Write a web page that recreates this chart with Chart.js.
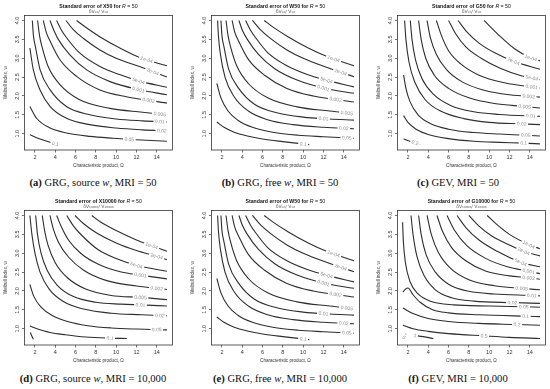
<!DOCTYPE html>
<html>
<head>
<meta charset="utf-8">
<script src="https://cdn.jsdelivr.net/npm/chart.js@4/dist/chart.umd.min.js"></script>
<style>
  body { margin: 0; background: #fff; width: 550px; height: 389px; position: relative; overflow: hidden; }
  canvas { position: absolute; }
  .cap { position: absolute; font-family: "Liberation Serif", serif; font-size: 10.6px; color: #111; white-space: nowrap; transform: translateX(-50%); line-height: 14px; }
</style>
</head>
<body>
<canvas id="pa" width="186" height="175" style="left:0px;top:0px"></canvas>
<canvas id="pb" width="186" height="175" style="left:187px;top:0px"></canvas>
<canvas id="pc" width="186" height="175" style="left:373px;top:0px"></canvas>
<canvas id="pd" width="186" height="175" style="left:0px;top:195px"></canvas>
<canvas id="pe" width="186" height="175" style="left:187px;top:195px"></canvas>
<canvas id="pf" width="186" height="175" style="left:373px;top:195px"></canvas>
<div class="cap" style="left:93px;top:176px"><b>(a)</b> GRG, source <i>w</i>, MRI = 50</div>
<div class="cap" style="left:280px;top:176px"><b>(b)</b> GRG, free <i>w</i>, MRI = 50</div>
<div class="cap" style="left:458px;top:176px"><b>(c)</b> GEV, MRI = 50</div>
<div class="cap" style="left:93px;top:372px"><b>(d)</b> GRG, source <i>w</i>, MRI = 10,000</div>
<div class="cap" style="left:280px;top:372px"><b>(e)</b> GRG, free <i>w</i>, MRI = 10,000</div>
<div class="cap" style="left:458px;top:372px"><b>(f)</b> GEV, MRI = 10,000</div>
<script>
// axis ticks (same for all panels)
const xTicks = [2, 4, 6, 8, 10, 12, 14];
const yTicks = [1.0, 1.5, 2.0, 2.5, 3.0, 3.5, 4.0];

// (a) X50, source w  -- contour levels, curves [omega, w], label positions (omega)
const levelsA = ['1e-04', '2e-04', '5e-04', '0.001', '0.002', '0.005', '0.01', '0.02', '0.05', '0.1'];
const curvesA = [
  [[6.1,4.0],[7.0,3.82],[8.5,3.55],[10.5,3.25],[12.3,3.02],[15,2.8]],
  [[5.05,4.0],[5.8,3.75],[6.75,3.53],[8.4,3.22],[10,3.0],[12.3,2.78],[15,2.5]],
  [[4.13,4.0],[4.6,3.75],[5.1,3.55],[6.4,3.14],[8.4,2.78],[10.4,2.56],[12.2,2.4],[15,2.23]],
  [[3.48,4.0],[3.85,3.75],[4.3,3.5],[5.44,3.09],[7.1,2.69],[9.4,2.38],[12.2,2.17],[15,2.03]],
  [[2.82,4.0],[3.1,3.7],[3.5,3.45],[4.46,2.96],[6.1,2.52],[8.4,2.16],[11,1.98],[15,1.81]],
  [[2.26,4.0],[2.45,3.6],[2.7,3.3],[3.3,2.78],[4.46,2.3],[6.4,1.9],[9.4,1.67],[12.6,1.57],[15,1.5]],
  [[1.74,4.0],[1.85,3.6],[2.05,3.3],[2.5,2.7],[3.5,2.16],[5.1,1.72],[7.4,1.5],[10,1.39],[12.6,1.34],[15,1.31]],
  [[1.5,3.27],[1.84,2.69],[2.5,2.16],[3.5,1.72],[5.1,1.41],[7.4,1.24],[10,1.15],[12.6,1.1],[15,1.07]],
  [[1.5,1.72],[2.16,1.41],[3.5,1.15],[5.1,1.02],[7.4,0.93],[9.7,0.88],[12,0.84],[15,0.8]],
  [[1.5,0.97],[2.5,0.86],[3.4,0.78],[4.3,0.71]]
];
const labelXA = [13.0, 13.6, 12.2, 12.2, 13.2, 14.3, 14.3, 14.5, 11.3, 4.0];

// (b) W50, free w
const levelsB = ['1e-04', '2e-04', '5e-04', '0.001', '0.002', '0.005', '0.01', '0.02', '0.05', '0.1'];
const curvesB = [
  [[6.17,4.0],[7.0,3.83],[8.5,3.57],[10.5,3.27],[12.3,3.05],[15,2.8]],
  [[5.0,4.0],[5.8,3.75],[6.8,3.52],[8.4,3.22],[10,3.0],[12.3,2.76],[15,2.51]],
  [[4.33,4.0],[4.8,3.75],[5.3,3.55],[6.5,3.15],[8.4,2.8],[10.4,2.57],[12.3,2.42],[15,2.24]],
  [[3.67,4.0],[4.0,3.75],[4.5,3.5],[5.6,3.1],[7.2,2.72],[9.4,2.42],[12,2.21],[15,2.07]],
  [[3.0,4.0],[3.25,3.7],[3.65,3.45],[4.6,2.97],[6.2,2.55],[8.4,2.2],[11,2.0],[15,1.84]],
  [[2.4,4.0],[2.6,3.6],[2.85,3.3],[3.45,2.8],[4.6,2.33],[6.5,1.95],[9.4,1.71],[12.6,1.6],[15,1.53]],
  [[1.9,4.0],[2.0,3.6],[2.2,3.3],[2.65,2.72],[3.65,2.2],[5.2,1.78],[7.5,1.55],[10,1.44],[12.6,1.39],[15,1.36]],
  [[1.57,4.0],[1.65,3.6],[1.85,3.1],[2.3,2.5],[3.2,1.98],[4.6,1.6],[6.5,1.37],[9,1.24],[12,1.17],[15,1.13]],
  [[1.5,2.33],[1.9,1.95],[2.6,1.6],[3.6,1.35],[5,1.17],[7,1.04],[9.5,0.96],[12,0.92],[15,0.88]],
  [[1.5,1.31],[2.2,1.17],[3.2,1.04],[4.5,0.94],[6,0.86],[8,0.79],[10,0.73],[10.6,0.71]]
];
const labelXB = [13.0, 13.7, 12.3, 12.0, 13.2, 14.3, 12.0, 14.0, 14.3, 10.0];

// (c) G50, GEV
const levelsC = ['1e-04', '2e-04', '5e-04', '0.001', '0.002', '0.005', '0.01', '0.02', '0.05', '0.1', '0.2'];
const curvesC = [
  [[9.5,4.0],[11,3.6],[12.5,3.25],[14,3.02],[15,2.93]],
  [[6.93,4.0],[7.8,3.7],[9,3.4],[10.5,3.15],[12.4,2.92],[15,2.71]],
  [[6.0,4.0],[6.7,3.65],[7.7,3.3],[9.2,3.0],[11.2,2.72],[13,2.55],[15,2.43]],
  [[4.8,4.0],[5.3,3.6],[6.0,3.2],[7.2,2.85],[9,2.55],[11.5,2.35],[15,2.21]],
  [[3.88,4.0],[4.2,3.55],[4.8,3.1],[5.8,2.7],[7.3,2.38],[9.5,2.15],[12,2.03],[15,1.97]],
  [[3.05,4.0],[3.3,3.5],[3.75,3.0],[4.6,2.55],[6,2.2],[8,1.95],[10.5,1.8],[13.5,1.72],[15,1.68]],
  [[2.23,4.0],[2.4,3.5],[2.75,2.95],[3.4,2.45],[4.5,2.05],[6.2,1.75],[8.5,1.58],[11,1.51],[15,1.46]],
  [[1.67,4.0],[1.8,3.5],[2.1,2.9],[2.7,2.35],[3.7,1.9],[5.2,1.6],[7.5,1.4],[10,1.3],[13.2,1.26],[15,1.24]],
  [[1.57,2.56],[1.8,2.2],[2.2,1.85],[3,1.5],[4.2,1.27],[6,1.12],[8.5,1.03],[11,0.99],[13.6,0.96],[15,0.94]],
  [[1.57,1.48],[2.0,1.3],[2.8,1.12],[4,0.98],[6,0.87],[8.5,0.8],[11,0.77],[13.4,0.75],[15,0.73]],
  [[1.57,0.86],[2.2,0.8],[3.2,0.72]]
];
const labelXC = [14.1, 12.4, 14.2, 14.2, 13.9, 13.5, 14.1, 13.2, 13.6, 13.4, 2.7];

// (d) X10000, source w
const levelsD = ['1e-04', '2e-04', '5e-04', '0.001', '0.002', '0.005', '0.01', '0.02', '0.05', '0.1', ''];
const curvesD = [
  [[7.6,4.0],[8.5,3.82],[10,3.6],[12,3.35],[13.5,3.2],[15,3.05]],
  [[5.95,4.0],[6.8,3.78],[8,3.55],[10,3.27],[12,3.07],[14,2.92],[15,2.83]],
  [[5.13,4.0],[5.8,3.72],[6.7,3.45],[8.2,3.1],[10,2.86],[12,2.68],[15,2.52]],
  [[4.14,4.0],[4.6,3.7],[5.3,3.35],[6.5,3.0],[8.3,2.7],[10.5,2.5],[12.4,2.42],[15,2.32]],
  [[3.48,4.0],[3.8,3.65],[4.3,3.3],[5.3,2.9],[6.8,2.55],[9,2.28],[12,2.13],[15,2.04]],
  [[2.72,4.0],[2.95,3.6],[3.3,3.2],[4.0,2.75],[5.2,2.35],[7,2.05],[9.5,1.88],[12.4,1.83],[15,1.77]],
  [[2.07,4.0],[2.25,3.5],[2.6,3.0],[3.2,2.55],[4.2,2.15],[5.8,1.85],[8,1.7],[10.5,1.65],[12.4,1.63],[15,1.6]],
  [[1.5,4.0],[1.7,3.5],[2.0,3.0],[2.5,2.5],[3.4,2.05],[4.8,1.72],[6.8,1.52],[9.5,1.41],[12.5,1.37],[15,1.34]],
  [[1.5,2.17],[1.9,1.85],[2.6,1.57],[3.7,1.35],[5.2,1.19],[7.2,1.08],[9.5,1.02],[12,0.99],[15,0.97]],
  [[1.5,1.07],[2.2,1.0],[3.5,0.9],[5,0.84],[7,0.78],[9.4,0.75],[11.05,0.74]],
  [[1.55,0.9],[1.7,0.8],[1.85,0.72]]
];
const labelXD = [13.5, 14.0, 12.0, 12.4, 14.0, 12.4, 12.4, 14.3, 14.0, 9.4, null];

// (f) G10000, GEV
const levelsF = ['1e-04', '2e-04', '5e-04', '0.001', '0.002', '0.005', '0.01', '0.02', '0.05', '0.1', '0.2', '0.5', '1', '2', '5'];
const curvesF = [
  [[9.8,4.0],[10.8,3.75],[12,3.5],[13.9,3.23],[15,3.12]],
  [[8.0,4.0],[9,3.72],[10.3,3.45],[12,3.22],[13.4,3.05],[15,2.93]],
  [[6.84,4.0],[7.7,3.68],[9,3.35],[10.8,3.05],[13.1,2.76],[15,2.64]],
  [[5.85,4.0],[6.6,3.6],[7.8,3.2],[9.6,2.87],[11.8,2.64],[13.9,2.52],[15,2.46]],
  [[4.86,4.0],[5.4,3.58],[6.3,3.15],[7.7,2.8],[9.7,2.52],[12,2.4],[13.9,2.35],[15,2.31]],
  [[3.88,4.0],[4.3,3.5],[5.0,3.02],[6.2,2.6],[8.0,2.3],[10.5,2.14],[13.2,2.07],[15,2.03]],
  [[3.05,4.0],[3.3,3.5],[3.8,2.95],[4.7,2.5],[6.0,2.18],[8.0,1.99],[10.5,1.92],[14.2,1.88],[15,1.87]],
  [[2.3,4.0],[2.5,3.5],[2.9,2.9],[3.6,2.4],[4.7,2.03],[6.3,1.82],[8.5,1.73],[12.3,1.69],[15,1.67]],
  [[1.47,3.82],[1.55,3.3],[1.75,2.75],[2.2,2.25],[3.0,1.92],[4.3,1.72],[6.5,1.63],[10,1.6],[13.4,1.58],[15,1.57]],
  [[1.5,1.97],[1.75,2.05],[2.0,2.08],[2.5,1.9],[3.2,1.7],[4.37,1.51],[6,1.42],[9,1.37],[13.6,1.33],[15,1.32]],
  [[1.5,1.55],[2.5,1.4],[4,1.27],[6,1.19],[9,1.14],[12.75,1.11],[15,1.09]],
  [[1.5,1.09],[2.5,1.0],[4,0.93],[6,0.87],[9.5,0.81],[12,0.77],[15,0.74]],
  [[2.7,0.82],[3.5,0.79],[4.5,0.74]],
  [[1.5,0.87],[1.65,0.85],[1.8,0.81]],
  [[1.5,0.8],[1.6,0.77],[1.7,0.75]]
];
const labelXF = [13.9, 13.4, 13.1, 13.9, 13.9, 13.2, 14.2, 12.3, 13.4, 13.6, 12.75, 9.5, 2.45, 1.68, 1.6];

const panels = [
  { id: 'pa', name: 'X50', sub: 'δV₅₀/ V₅₀', curves: curvesA, levels: levelsA, labelX: labelXA },
  { id: 'pb', name: 'W50', sub: 'δV₅₀/ V₅₀', curves: curvesB, levels: levelsB, labelX: labelXB },
  { id: 'pc', name: 'G50', sub: 'δV₅₀/ V₅₀', curves: curvesC, levels: levelsC, labelX: labelXC },
  { id: 'pd', name: 'X10000', sub: 'δV₁₀₀₀₀/ V₁₀₀₀₀', curves: curvesD, levels: levelsD, labelX: labelXD },
  { id: 'pe', name: 'W50', sub: 'δV₅₀/ V₅₀', curves: curvesB, levels: levelsB, labelX: labelXB },
  { id: 'pf', name: 'G10000', sub: 'δV₁₀₀₀₀/ V₁₀₀₀₀', curves: curvesF, levels: levelsF, labelX: labelXF }
];

const FONT = '"Liberation Sans", Arial, sans-serif';

// R-style frame, titles, rotated y labels and inline contour labels
function rPlot(p) {
  return {
    id: 'rPlot',
    afterDatasetsDraw(chart) {
      const { ctx, scales: { x, y } } = chart;
      ctx.save();
      ctx.font = '5px ' + FONT;
      ctx.textAlign = 'center';
      ctx.textBaseline = 'middle';
      p.curves.forEach((pts, i) => {
        const lx = p.labelX[i];
        if (lx == null || !p.levels[i]) return;
        let k = pts.findIndex((q, j) => j < pts.length - 1 && pts[j + 1][0] >= lx);
        if (k < 0) k = pts.length - 2;
        const [x1, y1] = pts[k], [x2, y2] = pts[k + 1];
        const t = Math.max(0, Math.min(1, (lx - x1) / (x2 - x1)));
        const px1 = x.getPixelForValue(x1), py1 = y.getPixelForValue(y1);
        const px2 = x.getPixelForValue(x2), py2 = y.getPixelForValue(y2);
        const px = px1 + (px2 - px1) * t, py = py1 + (py2 - py1) * t;
        const ang = Math.atan2(py2 - py1, px2 - px1);
        const tw = ctx.measureText(p.levels[i]).width;
        ctx.save();
        ctx.translate(px, py);
        ctx.rotate(ang);
        ctx.fillStyle = '#fff';
        ctx.fillRect(-tw / 2 - 1.5, -3, tw + 3, 6);
        ctx.fillStyle = '#8c8c8c';
        ctx.fillText(p.levels[i], 0, 0.3);
        ctx.restore();
      });
      ctx.restore();
    },
    afterDraw(chart) {
      const { ctx, chartArea: a, scales: { y } } = chart;
      ctx.save();
      ctx.strokeStyle = '#333';
      ctx.lineWidth = 0.8;
      ctx.strokeRect(a.left, a.top, a.right - a.left, a.bottom - a.top);
      ctx.fillStyle = '#333';
      ctx.textAlign = 'center';
      ctx.textBaseline = 'middle';
      // y tick labels, rotated like R
      ctx.font = '5.5px ' + FONT;
      yTicks.forEach(v => {
        ctx.save();
        ctx.translate(a.left - 6.5, y.getPixelForValue(v));
        ctx.rotate(-Math.PI / 2);
        ctx.fillText(v.toFixed(1), 0, 0);
        ctx.restore();
      });
      const cx = (a.left + a.right) / 2;
      // axis titles
      ctx.font = '4.6px ' + FONT;
      ctx.fillText('Characteristic product, Ω', cx, a.bottom + 15.8);
      ctx.save();
      ctx.translate(5.8, (a.top + a.bottom) / 2);
      ctx.rotate(-Math.PI / 2);
      ctx.fillText('Weibull index, w', 0, 0);
      ctx.restore();
      // main title: bold text + italic R
      const parts = [
        ['bold 5.2px ' + FONT, 'Standard error of ' + p.name + ' for '],
        ['italic 5.2px ' + FONT, 'R'],
        ['5.2px ' + FONT, ' = 50']
      ];
      let tot = 0;
      parts.forEach(q => { ctx.font = q[0]; tot += ctx.measureText(q[1]).width; });
      let sx = cx - tot / 2;
      ctx.textAlign = 'left';
      ctx.fillStyle = '#111';
      parts.forEach(q => { ctx.font = q[0]; ctx.fillText(q[1], sx, 6.2); sx += ctx.measureText(q[1]).width; });
      ctx.textAlign = 'center';
      ctx.fillStyle = '#555';
      ctx.font = '4.6px "DejaVu Sans", sans-serif';
      ctx.fillText(p.sub, cx, 11.4);
      ctx.restore();
    }
  };
}

panels.forEach(p => {
  new Chart(document.getElementById(p.id), {
    type: 'scatter',
    data: {
      datasets: p.curves.map(pts => ({
        data: pts.map(q => ({ x: q[0], y: q[1] })),
        showLine: true,
        borderColor: '#2e2e2e',
        borderWidth: 1.1,
        pointRadius: 0,
        cubicInterpolationMode: 'monotone',
        fill: false
      }))
    },
    options: {
      responsive: false,
      animation: false,
      events: [],
      layout: { padding: { top: 15.5, right: 13.6, left: 0, bottom: 0 } },
      plugins: { legend: { display: false }, tooltip: { enabled: false } },
      scales: {
        x: {
          type: 'linear', min: 0.96, max: 15.54,
          afterBuildTicks: s => { s.ticks = xTicks.map(v => ({ value: v })); },
          afterFit: s => { s.height = 25; },
          border: { display: false },
          grid: { drawOnChartArea: false, tickLength: 2.5, color: '#333', lineWidth: 0.7 },
          ticks: { font: { size: 5.5, family: FONT }, color: '#333', padding: 1.5, maxRotation: 0, autoSkip: false }
        },
        y: {
          type: 'linear', min: 0.568, max: 4.132,
          afterBuildTicks: s => { s.ticks = yTicks.map(v => ({ value: v })); },
          afterFit: s => { s.width = 24.4; },
          border: { display: false },
          grid: { drawOnChartArea: false, tickLength: 2.5, color: '#333', lineWidth: 0.7 },
          ticks: { display: false }
        }
      }
    },
    plugins: [rPlot(p)]
  });
});
</script>
</body>
</html>
